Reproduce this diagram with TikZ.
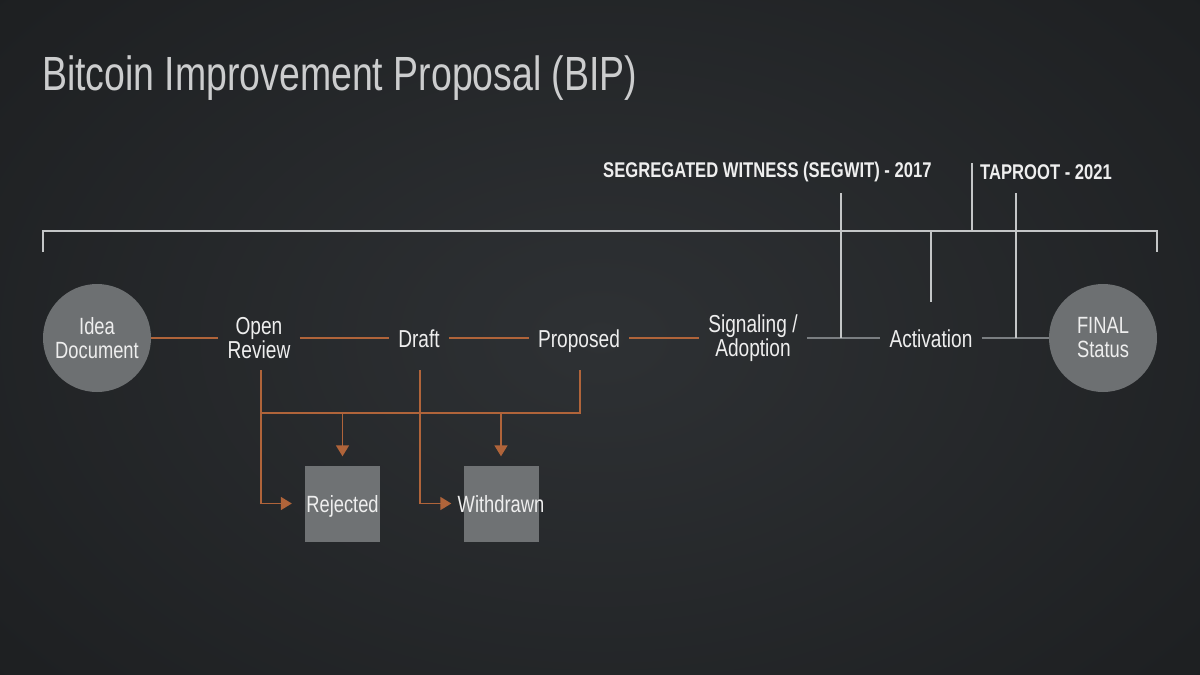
\documentclass[tikz,border=0pt]{standalone}
\usepackage{fontspec}
\setmainfont{Liberation Sans}
\newfontfamily\cond{Liberation Sans}[FakeStretch=0.78]
\usetikzlibrary{arrows.meta}
\definecolor{bgin}{HTML}{2E3134}
\definecolor{bgout}{HTML}{1D1F21}
\definecolor{nodegray}{HTML}{6D7072}
\definecolor{boxgray}{HTML}{6F7274}
\definecolor{orangeline}{HTML}{B0643A}
\definecolor{grayline}{HTML}{7A7E81}
\definecolor{whiteline}{HTML}{C4C6C7}
\definecolor{txt}{HTML}{EEEEEE}
\definecolor{titletxt}{HTML}{CCCDCE}
\tikzset{
  stage/.style={text=txt, font=\cond\fontsize{24.5}{24}\selectfont, align=center, inner xsep=9pt, inner ysep=2pt},
  single/.style={text height=18pt, text depth=0pt},
  circ/.style={circle, fill=nodegray, minimum size=108pt, inner sep=0pt, text=txt, font=\cond\fontsize{23.5}{24}\selectfont, align=center},
  outbox/.style={rectangle, fill=boxgray, minimum width=75pt, minimum height=76pt, inner sep=0pt},
  boxtxt/.style={text=txt, font=\cond\fontsize{23.5}{24}\selectfont, text height=17pt, text depth=0pt},
  orl/.style={draw=orangeline, line width=2.4pt},
  orarrow/.style={draw=orangeline, line width=1.7pt, -{Triangle[length=11pt,width=13pt]}},
  orthin/.style={draw=orangeline, line width=1.7pt},
  grl/.style={draw=grayline, line width=2.4pt},
  whl/.style={draw=whiteline, line width=1.2pt},
  lbl/.style={text=txt, font=\cond\bfseries\fontsize{21.3}{24}\selectfont, inner sep=0pt},
}
\begin{document}
\begin{tikzpicture}[x=1pt,y=-1pt]
\useasboundingbox (0,0) rectangle (1200,675);
\shade[inner color=bgin, outer color=bgout] (-200,-200) rectangle (1400,875);
\node[anchor=base west, text=titletxt, font=\cond\fontsize{48}{52}\selectfont, inner sep=0pt] (title) at (42,90) {Bitcoin Improvement Proposal (BIP)};

% stages
\node[circ] (idea) at (97,338) {Idea\\Document};
\node[circ] (final) at (1103,338) {FINAL\\Status};
\node[stage] (open) at (259,338) {Open\\Review};
\node[stage, single] (draft) at (419,338) {Draft};
\node[stage, single] (prop) at (579,338) {Proposed};
\node[stage] (sig) at (753,338) {Signaling /\\Adoption};
\node[stage, single] (act) at (931,338) {Activation};

\draw[orl] (idea.east) -- (open.west);
\draw[orl] (open.east) -- (draft.west);
\draw[orl] (draft.east) -- (prop.west);
\draw[orl] (prop.east) -- (sig.west);
\draw[grl] (sig.east) -- (act.west);
\draw[grl] (act.east) -- (final.west);

% top labels and bracket
\node[lbl, anchor=west] (segw) at (603,172) {SEGREGATED WITNESS (SEGWIT) - 2017};
\node[lbl, anchor=west] (tap) at (980,172) {TAPROOT - 2021};
\coordinate (bl) at (43,252);
\coordinate (blt) at (43,231);
\coordinate (brt) at (1157,231);
\coordinate (br) at (1157,252);
\draw[whl] (bl) -- (blt) -- (brt) -- (br);
\coordinate (s1) at (841,193);
\coordinate (s2) at (841,338);
\coordinate (t1) at (1016,193);
\coordinate (t2) at (1016,338);
\coordinate (a1) at (931,231);
\coordinate (a2) at (931,302);
\coordinate (k1) at (972,163);
\coordinate (k2) at (972,231);
\draw[whl] (s1) -- (s2);
\draw[whl] (t1) -- (t2);
\draw[whl] (a1) -- (a2);
\draw[whl] (k1) -- (k2);

% outcome boxes
\node[outbox, label={[boxtxt]center:Rejected}] (rej) at (342.5,503.5) {};
\node[outbox, label={[boxtxt]center:Withdrawn}] (wd) at (501,503.5) {};

\coordinate (o1) at (261,370);
\coordinate (d1) at (420,370);
\coordinate (p1) at (580,370);
\coordinate (p2) at (580,413);
\coordinate (o2) at (261,413);
\coordinate (j1) at (342.5,413);
\coordinate (j2) at (501,413);
\draw[orarrow, shorten >=13pt] (o1) |- (rej.west);
\draw[orarrow, shorten >=12pt] (d1) |- (wd.west);
\draw[orthin] (p1) -- (p2) -- (o2);
\draw[orarrow, shorten >=9pt] (j1) -- (rej.north);
\draw[orarrow, shorten >=9pt] (j2) -- (wd.north);
\end{tikzpicture}
\end{document}
